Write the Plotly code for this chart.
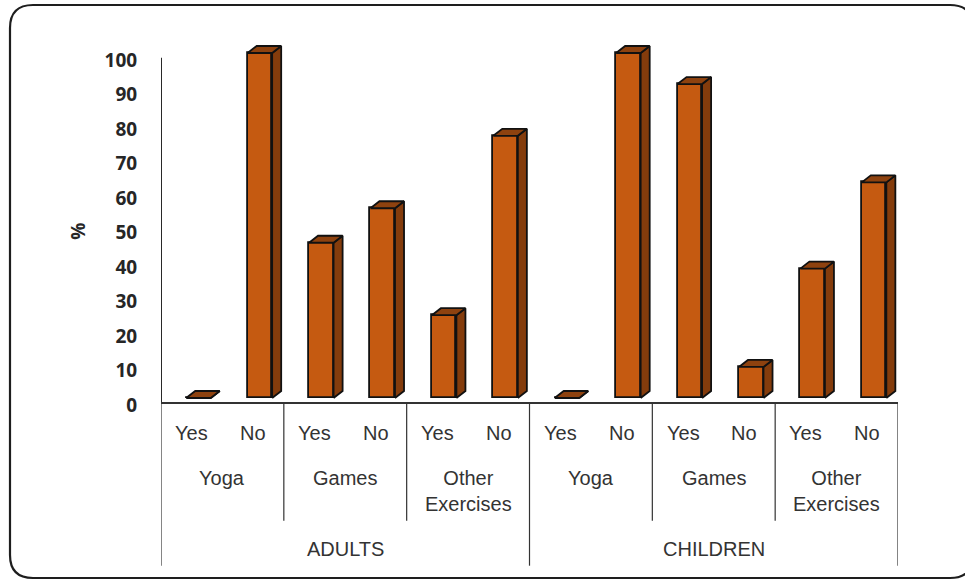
import plotly.graph_objects as go

# ---- data -------------------------------------------------------------
populations = ["ADULTS", "CHILDREN"]
activities = ["Yoga", "Games", "Other<br>Exercises"]
responses = ["Yes", "No"]

# percentage answering Yes / No, per activity (Yoga, Games, Other Exercises)
adults_pct = [0, 100, 45, 55, 24, 76]
children_pct = [0, 100, 91, 9, 37.5, 62.5]

y_tick_values = [0, 10, 20, 30, 40, 50, 60, 70, 80, 90, 100]

# ---- styling ----------------------------------------------------------
FRONT = "#C55A11"
SIDE = "#843C0C"
TOP = "#8E420F"
EDGE = "#111111"
LABEL = "#333333"

W, H = 965, 581
M_L, M_R, M_T, M_B = 161, 67, 40, 161
PW, PH = W - M_L - M_R, H - M_T - M_B

# pseudo-3D geometry, in axis units
BAR_W = 0.40       # width of the front face
BAR_SHIFT = 0.11   # floor perspective shift of the front face
DEPTH_X = 0.147    # horizontal depth of side/top faces
DEPTH_Y = 2.03     # vertical depth of side/top faces
BASE = 2.03        # front face sits slightly above the floor line


def fx(px):
    return (px - M_L) / PW


def fy(py):
    return (H - M_B - py) / PH


values = adults_pct + children_pct
n = len(values)
centers = [i + 0.5 + BAR_SHIFT for i in range(n)]

fig = go.Figure()

# front faces
fig.add_trace(go.Bar(
    x=centers, y=values, base=BASE, width=BAR_W,
    marker=dict(color=FRONT, line=dict(color=EDGE, width=1.8)),
    hoverinfo="skip", showlegend=False,
))

# side and top faces
side_x, side_y, top_x, top_y = [], [], [], []
for c, v in zip(centers, values):
    xl, xr = c - BAR_W / 2, c + BAR_W / 2
    t = BASE + v
    side_x += [xr, xr + DEPTH_X, xr + DEPTH_X, xr, xr, None]
    side_y += [BASE, BASE + DEPTH_Y, t + DEPTH_Y, t, BASE, None]
    top_x += [xl, xl + DEPTH_X, xr + DEPTH_X, xr, xl, None]
    top_y += [t, t + DEPTH_Y, t + DEPTH_Y, t, t, None]

fig.add_trace(go.Scatter(
    x=side_x, y=side_y, mode="lines", fill="toself", fillcolor=SIDE,
    line=dict(color=EDGE, width=1.8), hoverinfo="skip", showlegend=False,
))
fig.add_trace(go.Scatter(
    x=top_x, y=top_y, mode="lines", fill="toself", fillcolor=TOP,
    line=dict(color=EDGE, width=1.8), hoverinfo="skip", showlegend=False,
))

shapes = []
annotations = []

# axis lines
shapes.append(dict(type="line", xref="x", yref="paper", x0=0, x1=0,
                   y0=fy(403), y1=fy(57.7), line=dict(color=EDGE, width=1.8)))
shapes.append(dict(type="line", xref="x", yref="paper", x0=0, x1=n,
                   y0=fy(403), y1=fy(403), line=dict(color="#333333", width=1.8)))

# category separators: short between activities, long between populations
n_act = len(activities)
n_resp = len(responses)
for g in range(len(populations) * n_act + 1):
    xg = g * n_resp
    long_line = g % n_act == 0
    shapes.append(dict(type="line", xref="x", yref="paper", x0=xg, x1=xg,
                       y0=fy(403), y1=fy(565.7 if long_line else 520.7),
                       line=dict(color="#333333", width=1.2)))

label_font = dict(family="Liberation Sans, Arial, sans-serif", size=20, color=LABEL)

for i in range(n):
    annotations.append(dict(xref="x", yref="paper", x=i + 0.5, y=fy(433),
                            text=responses[i % n_resp], showarrow=False,
                            font=label_font, yanchor="middle"))

for p, pop in enumerate(populations):
    for a, act in enumerate(activities):
        xc = (p * n_act + a) * n_resp + n_resp / 2
        annotations.append(dict(xref="x", yref="paper", x=xc, y=fy(465),
                                text=act, showarrow=False, font=label_font,
                                yanchor="top"))
    annotations.append(dict(xref="x", yref="paper", x=(p + 0.5) * n_act * n_resp,
                            y=fy(549), text=pop, showarrow=False,
                            font=label_font, yanchor="middle"))

# y-axis title
annotations.append(dict(xref="paper", yref="paper", x=fx(78), y=fy(231.7),
                        text="<b>%</b>", textangle=-90, showarrow=False,
                        font=dict(family="Open Sans, Arial, sans-serif", size=19,
                                  color="#262626"),
                        xanchor="center", yanchor="middle"))

# rounded outer frame (right edge runs past the page)
L, T, R, B, r = 10, 5, 973, 578, 23
frame = (
    f"M {fx(L + r)} {fy(T)} L {fx(R - r)} {fy(T)} "
    f"Q {fx(R)} {fy(T)} {fx(R)} {fy(T + r)} L {fx(R)} {fy(B - r)} "
    f"Q {fx(R)} {fy(B)} {fx(R - r)} {fy(B)} L {fx(L + r)} {fy(B)} "
    f"Q {fx(L)} {fy(B)} {fx(L)} {fy(B - r)} L {fx(L)} {fy(T + r)} "
    f"Q {fx(L)} {fy(T)} {fx(L + r)} {fy(T)} Z"
)
shapes.append(dict(type="path", xref="paper", yref="paper", path=frame,
                   line=dict(color="#1e1e1e", width=2.2)))

px_per_unit = 3.45
y_lo = -(M_T + PH - 405) / px_per_unit
y_hi = y_lo + PH / px_per_unit

fig.update_layout(
    width=W, height=H,
    margin=dict(l=M_L, r=M_R, t=M_T, b=M_B, pad=0),
    paper_bgcolor="white", plot_bgcolor="white",
    bargap=0, showlegend=False,
    xaxis=dict(range=[0, n], visible=False, fixedrange=True),
    yaxis=dict(range=[y_lo, y_hi], tickvals=y_tick_values,
               ticktext=[f"<b>{v}</b>" for v in y_tick_values],
               showgrid=False, zeroline=False, showline=False,
               ticks="outside", ticklen=19, tickcolor="rgba(0,0,0,0)",
               tickfont=dict(family="Open Sans, Arial, sans-serif", size=19,
                             color="#262626"),
               fixedrange=True),
    shapes=shapes,
    annotations=annotations,
)

fig.write_html("out.html")
